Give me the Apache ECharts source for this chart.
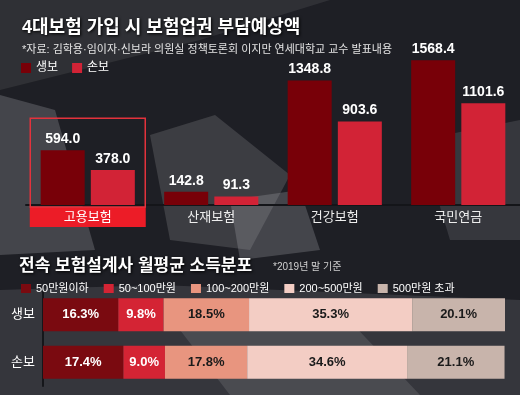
<!DOCTYPE html>
<html><head><meta charset="utf-8">
<script src="https://cdn.jsdelivr.net/npm/echarts@6/dist/echarts.min.js"></script>
<style>html,body{margin:0;padding:0;background:#202127}#c{width:520px;height:395px}</style>
</head><body><div id="c"></div>
<script>
// ---- data ----
const categories = ['고용보험', '산재보험', '건강보험', '국민연금'];
const premiumSeriesNames = ['생보', '손보'];
const lifeValues = [594.0, 142.8, 1348.8, 1568.4];
const nonLifeValues = [378.0, 91.3, 903.6, 1101.6];

const insurers = ['생보', '손보'];
const incomeBands = ['50만원이하', '50~100만원', '100~200만원', '200~500만원', '500만원 초과'];
const lifeShares = [16.3, 9.8, 18.5, 35.3, 20.1];
const nonLifeShares = [17.4, 9.0, 17.8, 34.6, 21.1];

// ---- styles ----
const FONT = '"Liberation Sans", "Noto Sans CJK KR", sans-serif';
const barColors = ['#780008', '#d22336'];
const bandColors = ['#7a0a10', '#d42434', '#e8957f', '#f3cdc4', '#c8b4ab'];
const bandTextColors = ['#ffffff', '#ffffff', '#1a1a1a', '#1a1a1a', '#1a1a1a'];

const chart = echarts.init(document.getElementById('c'), null, {renderer: 'canvas'});

const bgGraphics = [
  {type: 'rect', shape: {x: 0, y: 0, width: 520, height: 395}, style: {fill: '#1e1f25'}, silent: true, z: -20},
  {type: 'polygon', shape: {points: [[0, 0], [330, 0], [200, 40], [0, 90]]}, style: {fill: 'rgba(110,110,115,0.22)'}, silent: true, z: -19},
  {type: 'polygon', shape: {points: [[0, 95], [55, 110], [95, 250], [0, 255]]}, style: {fill: 'rgba(140,140,145,0.35)'}, silent: true, z: -19},
  {type: 'polygon', shape: {points: [[150, 135], [215, 115], [290, 175], [250, 250], [170, 240]]}, style: {fill: 'rgba(140,140,145,0.28)'}, silent: true, z: -19},
  {type: 'polygon', shape: {points: [[230, 200], [300, 190], [320, 250], [240, 260]]}, style: {fill: 'rgba(170,170,175,0.28)'}, silent: true, z: -19},
  {type: 'polygon', shape: {points: [[420, 140], [520, 120], [520, 240], [450, 240]]}, style: {fill: 'rgba(120,120,125,0.28)'}, silent: true, z: -19},
  {type: 'polygon', shape: {points: [[0, 290], [160, 285], [520, 300], [520, 395], [0, 395]]}, style: {fill: 'rgba(110,110,115,0.3)'}, silent: true, z: -19},
  {type: 'polygon', shape: {points: [[180, 330], [330, 300], [420, 395], [230, 395]]}, style: {fill: 'rgba(150,150,155,0.22)'}, silent: true, z: -19}
];

const option = {
  backgroundColor: '#1e1f25',
  animation: false,
  textStyle: {fontFamily: FONT},
  title: [
    {text: '4대보험 가입 시 보험업권 부담예상액', left: 17, top: 14,
      textStyle: {fontFamily: FONT, fontSize: 18, fontWeight: 'bold', color: '#ffffff', textShadowColor: '#000', textShadowBlur: 3, textShadowOffsetX: 1, textShadowOffsetY: 1}},
    {text: '*자료: 김학용·임이자·신보라 의원실 정책토론회 이지만 연세대학교 교수 발표내용', left: 17, top: 39,
      textStyle: {fontFamily: FONT, fontSize: 11, fontWeight: 'normal', color: '#e4e4e4'}},
    {text: '전속 보험설계사 월평균 소득분포', left: 14, top: 253,
      textStyle: {fontFamily: FONT, fontSize: 17, fontWeight: 'bold', color: '#ffffff', textShadowColor: '#000', textShadowBlur: 3, textShadowOffsetX: 1, textShadowOffsetY: 1}},
    {text: '*2019년 말 기준', left: 268, top: 257,
      textStyle: {fontFamily: FONT, fontSize: 10, fontWeight: 'normal', color: '#d0d0d0'}}
  ],
  legend: [
    {data: premiumSeriesNames, left: 16, top: 57, itemWidth: 10, itemHeight: 10, itemGap: 14, icon: 'rect',
      textStyle: {color: '#ffffff', fontSize: 12, fontFamily: FONT}, selectedMode: false},
    {data: incomeBands, left: 16, top: 278, itemWidth: 10, itemHeight: 9, itemGap: 15, icon: 'rect',
      textStyle: {color: '#ffffff', fontSize: 11, fontFamily: FONT}, selectedMode: false}
  ],
  grid: [
    {left: 26, right: 0, top: 48, bottom: 190},
    {left: 43, right: 15, top: 291, bottom: 9}
  ],
  xAxis: [
    {type: 'category', gridIndex: 0, data: categories,
      axisLine: {lineStyle: {color: '#141519', width: 2}}, axisTick: {show: false},
      axisLabel: {color: '#eeeeee', fontSize: 13, margin: 2, lineHeight: 20, fontFamily: FONT,
        formatter: (v) => v === categories[0] ? '{hl|' + v + '}' : v,
        rich: {hl: {backgroundColor: '#ec1c27', color: '#ffffff', width: 116, height: 20, lineHeight: 20, align: 'center', fontSize: 13, fontFamily: FONT}}}},
    {type: 'value', gridIndex: 1, min: 0, max: 100, show: false}
  ],
  yAxis: [
    {type: 'value', gridIndex: 0, min: 0, max: 1700, show: false},
    {type: 'category', gridIndex: 1, data: insurers, inverse: true,
      axisLine: {show: true, lineStyle: {color: '#15161a', width: 2}}, axisTick: {show: false},
      axisLabel: {color: '#ffffff', fontSize: 13, margin: 8, fontFamily: FONT}}
  ],
  series: [
    {name: premiumSeriesNames[0], type: 'bar', xAxisIndex: 0, yAxisIndex: 0, data: lifeValues,
      barWidth: 44, barGap: '14%', itemStyle: {color: barColors[0]},
      label: {show: true, position: 'top', distance: 4, color: '#ffffff', fontSize: 14, fontWeight: 'bold', fontFamily: FONT,
        formatter: (p) => p.value.toFixed(1)}},
    {name: premiumSeriesNames[1], type: 'bar', xAxisIndex: 0, yAxisIndex: 0, data: nonLifeValues,
      barWidth: 44, barGap: '14%', itemStyle: {color: barColors[1]},
      label: {show: true, position: 'top', distance: 4, color: '#ffffff', fontSize: 14, fontWeight: 'bold', fontFamily: FONT,
        formatter: (p) => p.value.toFixed(1)}}
  ].concat(incomeBands.map((band, i) => ({
    name: band, type: 'bar', stack: 'income', xAxisIndex: 1, yAxisIndex: 1,
    data: [lifeShares[i], nonLifeShares[i]], barWidth: 33,
    itemStyle: {color: bandColors[i]},
    label: {show: true, position: 'inside', color: bandTextColors[i], fontSize: 13, fontWeight: 'bold', fontFamily: FONT,
      formatter: (p) => p.value.toFixed(1) + '%'}
  }))),
  graphic: bgGraphics
};
chart.setOption(option);

// highlight outline around first category, derived from the axes
const cx = chart.convertToPixel({xAxisIndex: 0}, categories[0]);
const baseY = chart.convertToPixel({yAxisIndex: 0}, 0);
const topY = chart.convertToPixel({yAxisIndex: 0}, lifeValues[0]) - 32;
chart.setOption({graphic: bgGraphics.concat([
  {type: 'rect', shape: {x: cx - 57.5, y: topY, width: 115, height: baseY - topY + 2},
    style: {fill: 'none', stroke: '#e3323c', lineWidth: 1.5}, silent: true, z: 10}
])});
</script></body></html>
